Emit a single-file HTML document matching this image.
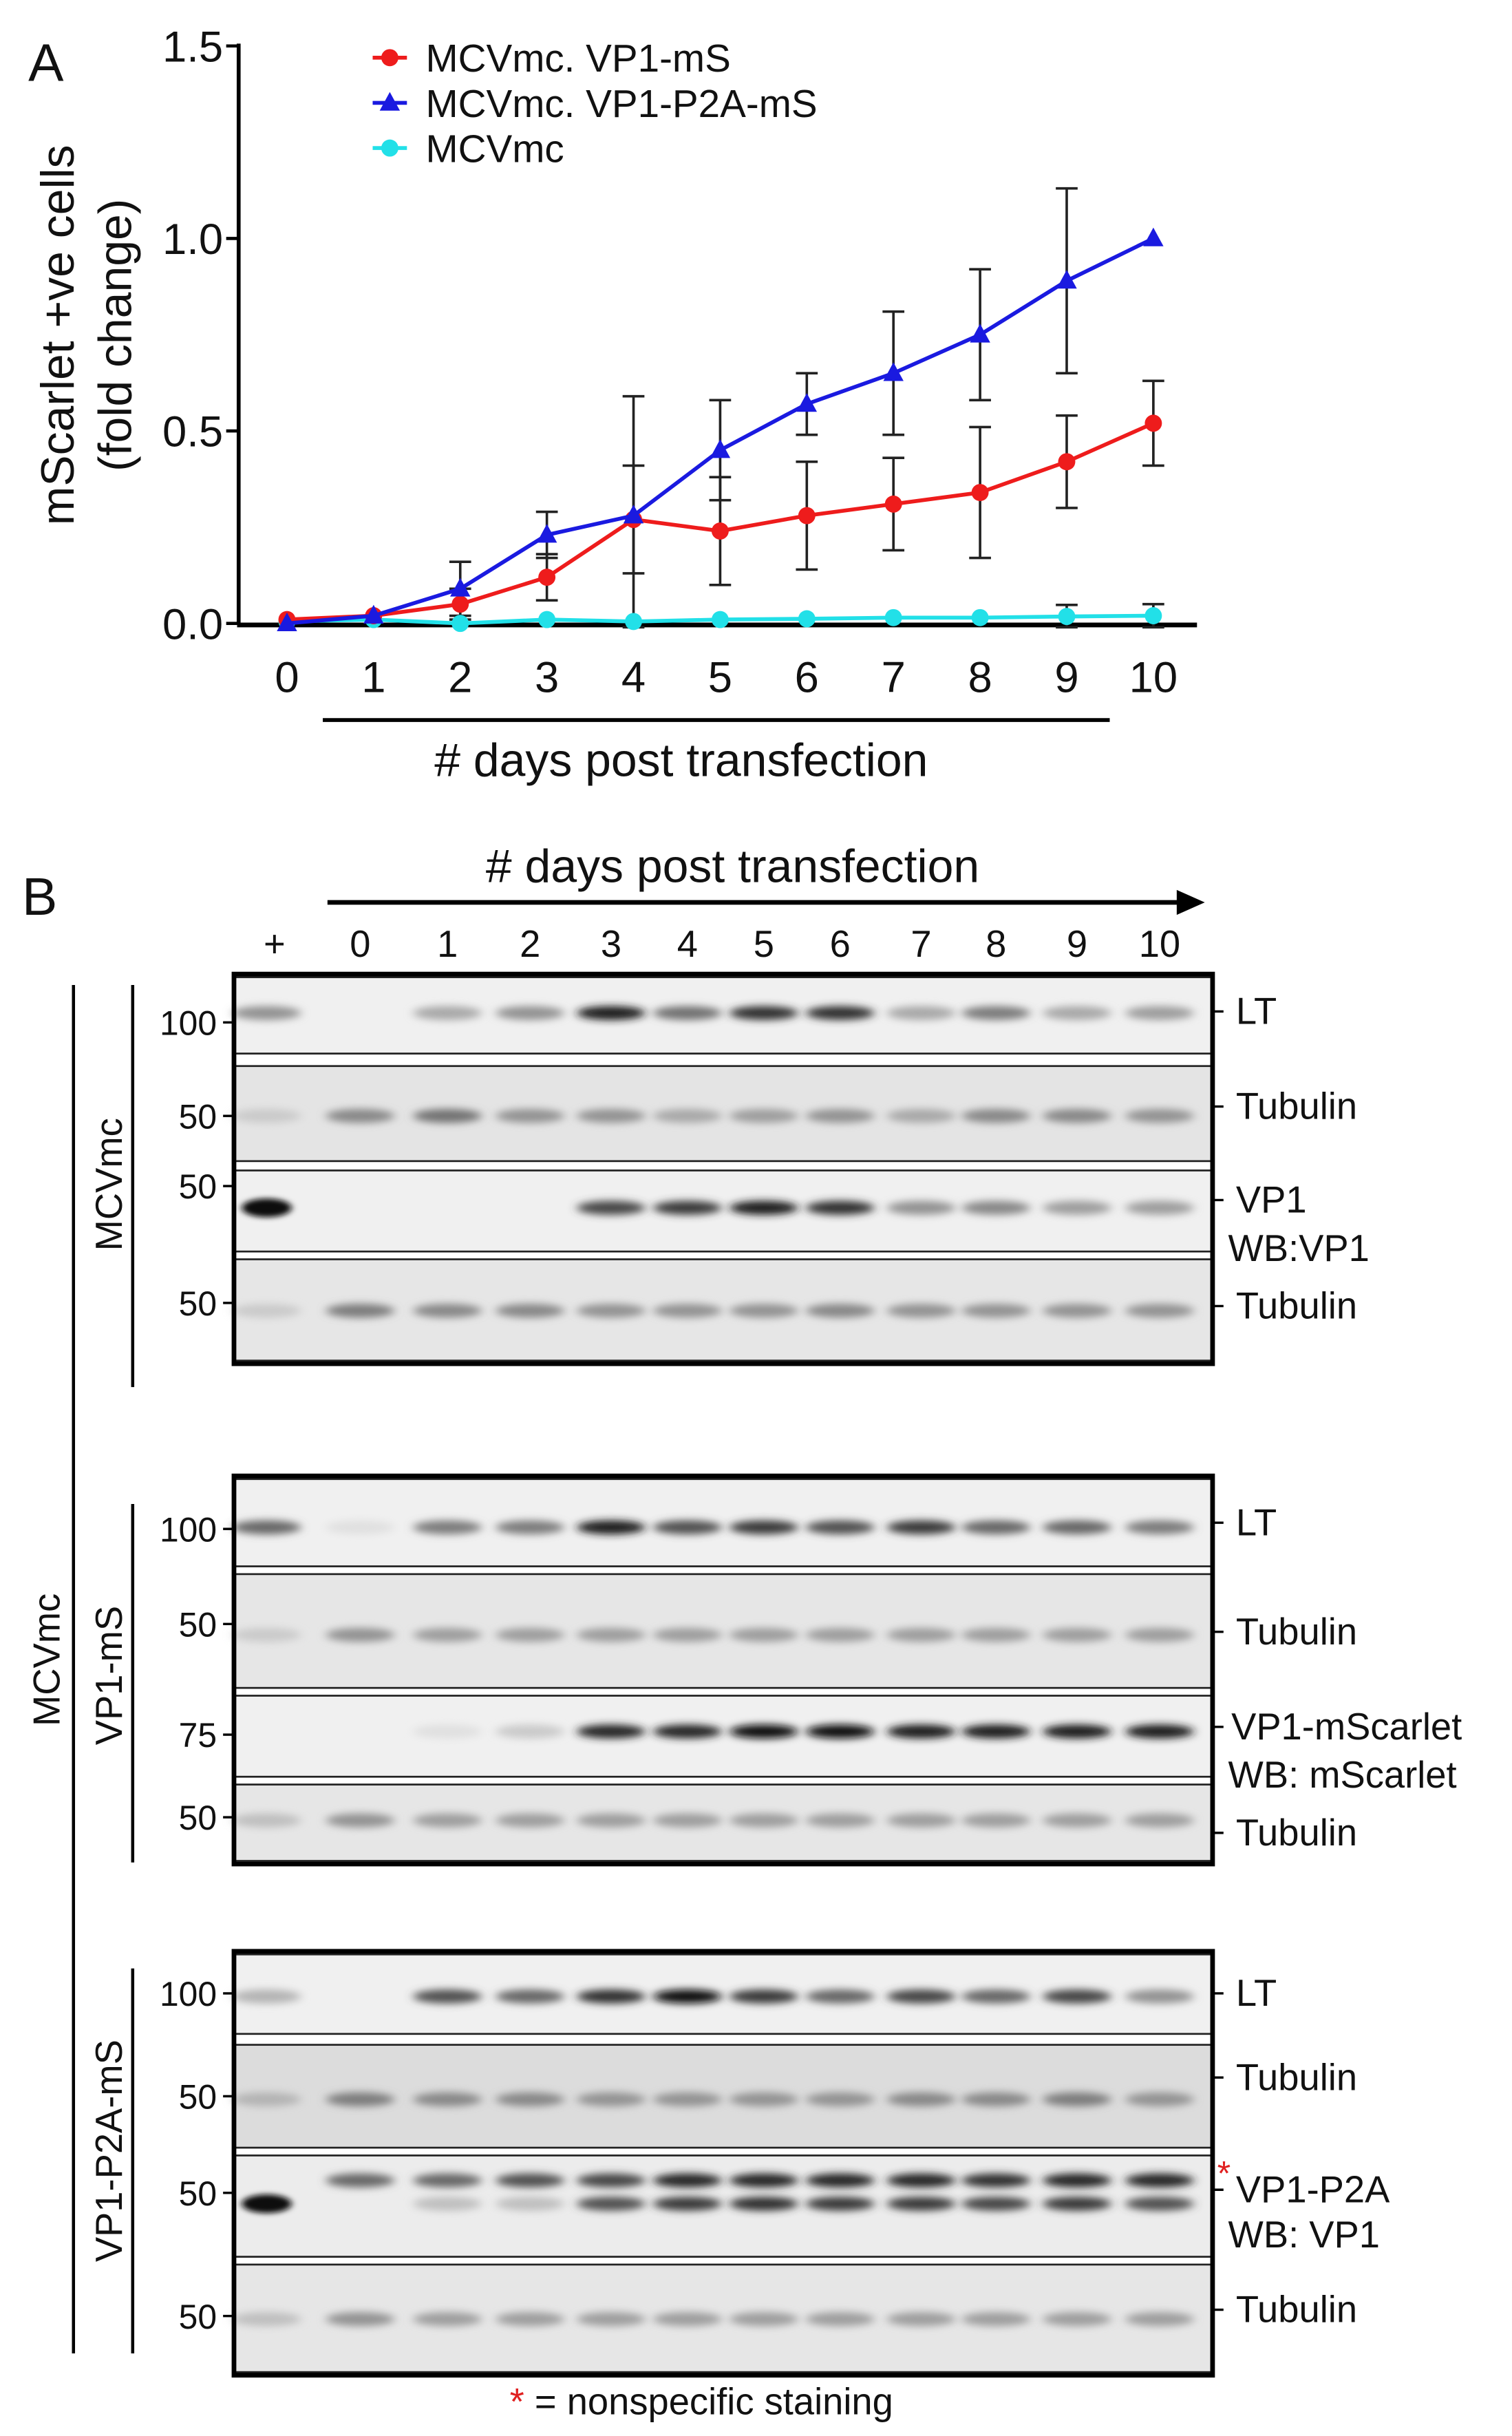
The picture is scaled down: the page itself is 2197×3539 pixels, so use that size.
<!DOCTYPE html>
<html><head><meta charset="utf-8"><style>
html,body{margin:0;padding:0;background:#fff;}
svg{display:block;}
text{font-family:"Liberation Sans",sans-serif;fill:#111;}
</style></head><body>
<svg id="fig" width="2197" height="3539" viewBox="0 0 970 1563" xmlns="http://www.w3.org/2000/svg">
<defs>
<filter id="blur" x="-50%" y="-100%" width="200%" height="300%"><feGaussianBlur stdDeviation="2.2 1.6"/></filter>
<filter id="blur2" x="-50%" y="-100%" width="200%" height="300%"><feGaussianBlur stdDeviation="3 2.5"/></filter>
</defs>
<g id="chartA">
<text x="18" y="52" font-size="34">A</text>
<g id="yaxis"></g>
<g id="xaxis"></g>
<text transform="translate(47,215) rotate(-90)" text-anchor="middle" font-size="30">mScarlet +ve cells</text>
<text transform="translate(84,215) rotate(-90)" text-anchor="middle" font-size="30">(fold change)</text>
<line x1="207" y1="462" x2="712" y2="462" stroke="#000" stroke-width="2.5"/>
<text x="437" y="498" text-anchor="middle" font-size="30"># days post transfection</text>
<g id="series"></g>
<g id="legend"></g>
</g>
<g id="blots">
<text x="14" y="587" font-size="34">B</text>
<text x="470" y="566" text-anchor="middle" font-size="30"># days post transfection</text>
<line x1="210" y1="579" x2="757" y2="579" stroke="#000" stroke-width="3"/>
<polygon points="755,571 773,579 755,587" fill="#000"/>
<g id="lanelabels"></g>
<g id="panels"></g>
<line x1="47" y1="632" x2="47" y2="1510" stroke="#000" stroke-width="2"/>
<text transform="translate(38,1065) rotate(-90)" text-anchor="middle" font-size="24">MCVmc</text>
<text x="450" y="1549" text-anchor="middle" font-size="24"><tspan fill="#e02020" style="fill:#e02020">*</tspan> = nonspecific staining</text>
</g>
</svg>
<script>
// ---- Chart data ----
const days = [0,1,2,3,4,5,6,7,8,9,10];
const yTicks = [0.0,0.5,1.0,1.5];
const yTickLabels = ["0.0","0.5","1.0","1.5"];
const seriesNames = ["MCVmc. VP1-mS","MCVmc. VP1-P2A-mS","MCVmc"];
const redVals = [0.01,0.02,0.05,0.12,0.27,0.24,0.28,0.31,0.34,0.42,0.52];
const redErr = [0,0,0.04,0.06,0.14,0.14,0.14,0.12,0.17,0.12,0.11];
const blueVals = [0.0,0.02,0.09,0.23,0.28,0.45,0.57,0.65,0.75,0.89,1.0];
const blueErr = [0,0,0.07,0.06,0.31,0.13,0.08,0.16,0.17,0.24,0];
const cyanVals = [0.005,0.01,0.0,0.01,0.005,0.01,0.012,0.015,0.015,0.018,0.02];
const cyanErr = [0,0,0,0,0,0,0,0,0,0.03,0.03];

const NS="http://www.w3.org/2000/svg";
function mk(tag,attrs,parent){const e=document.createElementNS(NS,tag);for(const k in attrs)e.setAttribute(k,attrs[k]);parent.appendChild(e);return e;}
const X0=184,X1=740,Y0=400,Ytop=29.5;
const xs=d=>X0+(X1-X0)*d/10;
const ys=v=>Y0-(Y0-Ytop)*v/1.5;

const yaxis=document.getElementById('yaxis');
let l=mk('line',{x1:153,y1:28,x2:153,y2:401,stroke:'#000','stroke-width':2.5},yaxis);


yTicks.forEach((t,i)=>{
  let tk=mk('line',{x1:145,y1:ys(t),x2:153,y2:ys(t),stroke:'#000','stroke-width':2},yaxis);
  
  
  let tx=mk('text',{x:143,y:ys(t)+10,'text-anchor':'end','font-size':28},yaxis);
  tx.textContent=yTickLabels[i];
  
  
});
const xaxis=document.getElementById('xaxis');
l=mk('line',{x1:152,y1:401,x2:768,y2:401,stroke:'#000','stroke-width':3},xaxis);


days.forEach(d=>{
  let tx=mk('text',{x:xs(d),y:444,'text-anchor':'middle','font-size':28},xaxis);
  tx.textContent=String(d);
  
  
});
const sg=document.getElementById('series');
function drawErr(vals,errs,name){
  vals.forEach((v,i)=>{ if(!errs[i])return;
    const g=mk('g',{stroke:'#222','stroke-width':1.6},sg);
    
    
    const x=xs(days[i]),a=ys(v+errs[i]),b=ys(Math.max(v-errs[i],-0.01));
    mk('line',{x1:x,y1:a,x2:x,y2:b},g);
    mk('line',{x1:x-7,y1:a,x2:x+7,y2:a},g);
    mk('line',{x1:x-7,y1:b,x2:x+7,y2:b},g);
  });
}
drawErr(blueVals,blueErr,'blue');
drawErr(redVals,redErr,'red');
drawErr(cyanVals,cyanErr,'cyan');
function drawLine(vals,color,name,marker){
  const p=mk('polyline',{points:vals.map((v,i)=>xs(days[i])+','+ys(v)).join(' '),fill:'none',stroke:color,'stroke-width':2.5},sg);
  
  
  vals.forEach((v,i)=>{
    const x=xs(days[i]),y=ys(v);let m;
    if(marker==='tri') m=mk('polygon',{points:`${x},${y-7} ${x-6.5},${y+5} ${x+6.5},${y+5}`,fill:color},sg);
    else m=mk('circle',{cx:x,cy:y,r:5.5,fill:color},sg);
    
    
  });
}
drawLine(cyanVals,'#22e0e8','cyan','circ');
drawLine(redVals,'#ee1c1c','red','circ');
drawLine(blueVals,'#1a1ae0','blue','tri');
const lg=document.getElementById('legend');
const lcol=['#ee1c1c','#1a1ae0','#22e0e8'],lmk=['circ','tri','circ'];
seriesNames.forEach((n,i)=>{
  const y=37+i*29;
  const g=mk('g',{},lg);
  
  
  mk('line',{x1:239,y1:y,x2:261,y2:y,stroke:lcol[i],'stroke-width':2.5},g);
  if(lmk[i]==='tri') mk('polygon',{points:`250,${y-7} 243.5,${y+5} 256.5,${y+5}`,fill:lcol[i]},g);
  else mk('circle',{cx:250,cy:y,r:5.5,fill:lcol[i]},g);
  const t=mk('text',{x:273,y:y+9,'font-size':25},g);t.textContent=n;
});

// ---- Blot data (band darkness per lane: +,0..10) ----
const laneLabels=["+","0","1","2","3","4","5","6","7","8","9","10"];
const laneX=[173,231,287,340,392,441,490,539,591,639,691,744];
const p1LT=[0.4,0,0.3,0.4,0.95,0.55,0.85,0.85,0.3,0.5,0.3,0.35];
const p1Tub=[0.15,0.45,0.55,0.4,0.4,0.3,0.35,0.4,0.3,0.45,0.45,0.4];
const p1VP1=[1,0,0,0,0.75,0.8,0.95,0.85,0.4,0.45,0.35,0.35];
const p1Tub2=[0.15,0.5,0.45,0.45,0.4,0.4,0.4,0.45,0.4,0.4,0.4,0.4];
const p2LT=[0.6,0.05,0.5,0.5,0.95,0.7,0.8,0.7,0.8,0.6,0.6,0.5];
const p2Tub=[0.15,0.4,0.35,0.35,0.35,0.35,0.35,0.35,0.35,0.35,0.35,0.35];
const p2mS=[0,0,0.05,0.15,0.9,0.9,1,1,0.95,0.95,0.95,0.95];
const p2Tub2=[0.2,0.4,0.35,0.35,0.35,0.35,0.35,0.35,0.35,0.35,0.35,0.35];
const p3LT=[0.25,0,0.7,0.6,0.85,1,0.8,0.6,0.75,0.6,0.75,0.4];
const p3Tub=[0.25,0.5,0.45,0.45,0.4,0.4,0.4,0.4,0.45,0.45,0.5,0.4];
const p3VP1up=[0,0.6,0.6,0.7,0.75,0.9,0.9,0.9,0.9,0.85,0.9,0.9];
const p3VP1lo=[1,0,0.2,0.2,0.7,0.8,0.85,0.8,0.8,0.75,0.8,0.7];
const p3Tub2=[0.2,0.4,0.35,0.35,0.35,0.35,0.35,0.35,0.35,0.35,0.35,0.35];

const ll=document.getElementById('lanelabels');
laneLabels.forEach((t,i)=>{
  const e=mk('text',{x:laneX[i]+ (i===0?3:0),y:614,'text-anchor':'middle','font-size':24},ll);
  e.textContent=t;
  
  
});
const panels=document.getElementById('panels');
function panel(name,top,bottom,lineTop,lineBot,vlabel,vlabelY,strips){
  const g=mk('g',{},panels);
  
  
  strips.forEach(s=>{
    const sg2=mk('g',{},g);
    
    
    mk('rect',{x:150,y:s.y0,width:628,height:s.y1-s.y0,fill:s.bg,stroke:'#222','stroke-width':1.2},sg2);
    s.bands.forEach(b=>{
      b.vals.forEach((v,i)=>{ if(v<=0.02)return;
        const c=Math.round(235-220*v);
        const big=(i===0&&v>0.9);
        mk('ellipse',{cx:laneX[i]+(i===0?-2:0),cy:b.y,rx:big?16:22,ry:big?6:4.5,fill:`rgb(${c},${c},${c})`,filter:big?'url(#blur)':'url(#blur2)'},sg2);
      });
    });
    s.mw.forEach(m=>{
      mk('line',{x1:143,y1:m[1],x2:150,y2:m[1],stroke:'#000','stroke-width':1.5},sg2);
      const t=mk('text',{x:139,y:m[1]+8,'text-anchor':'end','font-size':22},sg2);t.textContent=m[0];
    });
    s.labels.forEach(lb=>{
      if(lb.tick) mk('line',{x1:778,y1:lb.y-8,x2:785,y2:lb.y-8,stroke:'#000','stroke-width':1.5},sg2);
      const t=mk('text',{x:lb.x,y:lb.y,'font-size':24},sg2);t.textContent=lb.t;
    });
  });
  mk('rect',{x:150,y:top,width:628,height:bottom-top,fill:'none',stroke:'#000','stroke-width':3},g);
  mk('line',{x1:85,y1:lineTop,x2:85,y2:lineBot,stroke:'#000','stroke-width':2},g);
  const t=mk('text',{transform:`translate(78,${vlabelY}) rotate(-90)`,'text-anchor':'middle','font-size':24},g);t.textContent=vlabel;
}
panel('blot-panel-mcvmc',625,875,632,890,'MCVmc',760,[
 {y0:627,y1:676,bg:'#f0f0f0',bands:[{y:650,vals:p1LT}],mw:[["100",656]],labels:[{t:'LT',x:793,y:657,tick:1}]},
 {y0:684,y1:745,bg:'#e4e4e4',bands:[{y:716,vals:p1Tub}],mw:[["50",716]],labels:[{t:'Tubulin',x:793,y:718,tick:1}]},
 {y0:751,y1:803,bg:'#f0f0f0',bands:[{y:775,vals:p1VP1}],mw:[["50",761]],labels:[{t:'VP1',x:793,y:778,tick:1},{t:'WB:VP1',x:788,y:809}]},
 {y0:808,y1:873,bg:'#e6e6e6',bands:[{y:841,vals:p1Tub2}],mw:[["50",836]],labels:[{t:'Tubulin',x:793,y:846,tick:1}]}
]);
panel('blot-panel-vp1-ms',947,1196,965,1195,'VP1-mS',1075,[
 {y0:949,y1:1005,bg:'#f0f0f0',bands:[{y:980,vals:p2LT}],mw:[["100",981]],labels:[{t:'LT',x:793,y:985,tick:1}]},
 {y0:1010,y1:1083,bg:'#e6e6e6',bands:[{y:1049,vals:p2Tub}],mw:[["50",1042]],labels:[{t:'Tubulin',x:793,y:1055,tick:1}]},
 {y0:1088,y1:1140,bg:'#f0f0f0',bands:[{y:1111,vals:p2mS}],mw:[["75",1113]],labels:[{t:'VP1-mScarlet',x:790,y:1116,tick:1},{t:'WB: mScarlet',x:788,y:1147}]},
 {y0:1145,y1:1194,bg:'#e6e6e6',bands:[{y:1168,vals:p2Tub2}],mw:[["50",1166]],labels:[{t:'Tubulin',x:793,y:1184,tick:1}]}
]);
panel('blot-panel-vp1-p2a-ms',1252,1524,1263,1510,'VP1-P2A-mS',1380,[
 {y0:1254,y1:1305,bg:'#f0f0f0',bands:[{y:1281,vals:p3LT}],mw:[["100",1279]],labels:[{t:'LT',x:793,y:1287,tick:1}]},
 {y0:1312,y1:1378,bg:'#dcdcdc',bands:[{y:1347,vals:p3Tub}],mw:[["50",1345]],labels:[{t:'Tubulin',x:793,y:1341,tick:1}]},
 {y0:1383,y1:1448,bg:'#ececec',bands:[{y:1399,vals:p3VP1up},{y:1414,vals:p3VP1lo}],mw:[["50",1407]],labels:[{t:'VP1-P2A',x:793,y:1413,tick:1},{t:'WB: VP1',x:788,y:1442}]},
 {y0:1453,y1:1522,bg:'#e6e6e6',bands:[{y:1488,vals:p3Tub2}],mw:[["50",1486]],labels:[{t:'Tubulin',x:793,y:1490,tick:1}]}
]);
const star=mk('text',{x:781,y:1402,'font-size':22,fill:'#e02020',style:'fill:#e02020'},panels);
star.textContent='*';


</script>
</body></html>
